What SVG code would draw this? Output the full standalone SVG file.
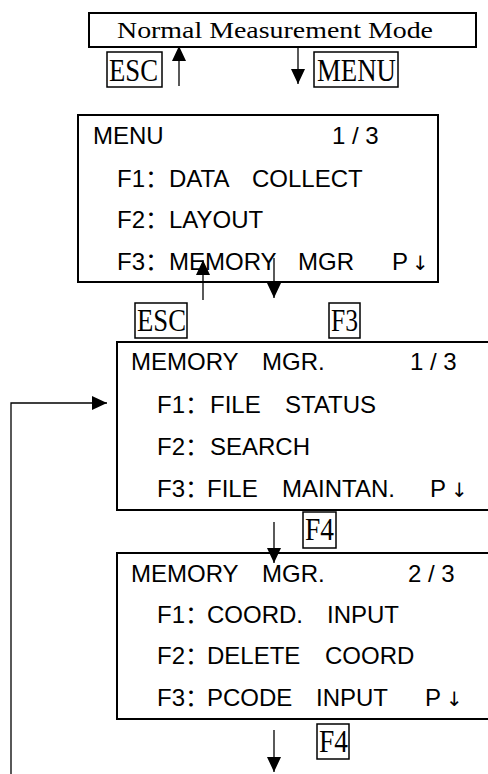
<svg xmlns="http://www.w3.org/2000/svg" width="488" height="774" viewBox="0 0 488 774">
<style>
.box{fill:none;stroke:#000;stroke-width:2}
.key{fill:none;stroke:#000;stroke-width:1.5}
.ktxt{font-family:"Liberation Serif","Times New Roman",serif;font-size:31px;fill:#000}
.txt{font-family:"Liberation Sans",Arial,"Noto Sans CJK SC",sans-serif;font-size:24px;fill:#000}
.dn{font-family:"DejaVu Sans",sans-serif;font-size:20px;fill:#000}
.ar{fill:none;stroke:#000;stroke-width:1.3}
</style>
<defs>
<marker id="ah" markerUnits="userSpaceOnUse" markerWidth="15" markerHeight="14" refX="15" refY="7" orient="auto" viewBox="0 0 15 14">
<path d="M0,0 L15,7 L0,14 z" fill="#000"/>
</marker>
</defs>
<rect width="488" height="774" fill="#fff"/>
<g id="normal-mode">
<rect class="box" x="89" y="13" width="387" height="34"/>
<text x="117" y="38" font-family="Liberation Serif,'Times New Roman',serif" font-size="23" textLength="316" lengthAdjust="spacingAndGlyphs">Normal Measurement Mode</text>
</g>
<g id="key-esc1">
<rect class="key" x="107" y="52" width="55" height="35"/>
<text class="ktxt" x="109" y="81" textLength="49" lengthAdjust="spacingAndGlyphs">ESC</text>
</g>
<g id="key-menu">
<rect class="key" x="314" y="52" width="84" height="35"/>
<text class="ktxt" x="317" y="81" textLength="79" lengthAdjust="spacingAndGlyphs">MENU</text>
</g>
<g id="menu-screen">
<rect class="box" x="78" y="115" width="360" height="167"/>
<text class="txt" y="144"><tspan x="93">MENU</tspan><tspan x="332">1 / 3</tspan></text>
<text class="txt" y="187"><tspan x="117">F1：</tspan><tspan x="169">DATA</tspan><tspan x="252">COLLECT</tspan></text>
<text class="txt" y="228"><tspan x="117">F2：</tspan><tspan x="169">LAYOUT</tspan></text>
<text class="txt" y="270"><tspan x="117">F3：</tspan><tspan x="169">MEMORY</tspan><tspan x="298">MGR</tspan><tspan x="392">P</tspan><tspan class="dn" x="412">↓</tspan></text>
</g>
<g id="key-esc2">
<rect class="key" x="135" y="303" width="52" height="35"/>
<text class="ktxt" x="137" y="331" textLength="49" lengthAdjust="spacingAndGlyphs">ESC</text>
</g>
<g id="key-f3">
<rect class="key" x="329" y="303" width="31" height="35"/>
<text class="ktxt" x="331" y="331" textLength="27" lengthAdjust="spacingAndGlyphs">F3</text>
</g>
<g id="memory-1">
<path class="box" d="M488,342 H117 V510 H488"/>
<text class="txt" y="370"><tspan x="131">MEMORY</tspan><tspan x="262">MGR.</tspan><tspan x="410">1 / 3</tspan></text>
<text class="txt" y="413"><tspan x="157">F1：</tspan><tspan x="210">FILE</tspan><tspan x="285">STATUS</tspan></text>
<text class="txt" y="455"><tspan x="157">F2：</tspan><tspan x="210">SEARCH</tspan></text>
<text class="txt" y="497"><tspan x="157">F3：</tspan><tspan x="207">FILE</tspan><tspan x="282">MAINTAN.</tspan><tspan x="430">P</tspan><tspan class="dn" x="451">↓</tspan></text>
</g>
<g id="key-f4a">
<rect class="key" x="303" y="512" width="33" height="36"/>
<text class="ktxt" x="305" y="540" textLength="29" lengthAdjust="spacingAndGlyphs">F4</text>
</g>
<g id="memory-2">
<path class="box" d="M488,553 H117 V719 H488"/>
<text class="txt" y="582"><tspan x="131">MEMORY</tspan><tspan x="262">MGR.</tspan><tspan x="408">2 / 3</tspan></text>
<text class="txt" y="623"><tspan x="157">F1：</tspan><tspan x="207">COORD.</tspan><tspan x="327">INPUT</tspan></text>
<text class="txt" y="664"><tspan x="157">F2：</tspan><tspan x="207">DELETE</tspan><tspan x="325">COORD</tspan></text>
<text class="txt" y="706"><tspan x="157">F3：</tspan><tspan x="207">PCODE</tspan><tspan x="316">INPUT</tspan><tspan x="425">P</tspan><tspan class="dn" x="446">↓</tspan></text>
</g>
<g id="key-f4b">
<rect class="key" x="317" y="724" width="32" height="35"/>
<text class="ktxt" x="319" y="752" textLength="29" lengthAdjust="spacingAndGlyphs">F4</text>
</g>
<g id="connectors">
<line class="ar" x1="179" y1="86" x2="179" y2="46" marker-end="url(#ah)"/>
<line class="ar" x1="298" y1="47" x2="298" y2="84" marker-end="url(#ah)"/>
<line class="ar" x1="203" y1="300" x2="203" y2="260" marker-end="url(#ah)"/>
<line class="ar" x1="274" y1="258" x2="274" y2="298" marker-end="url(#ah)"/>
<line class="ar" x1="274" y1="522" x2="274" y2="563" marker-end="url(#ah)"/>
<line class="ar" x1="274" y1="730" x2="274" y2="772" marker-end="url(#ah)"/>
<polyline class="ar" points="11,774 11,403 107,403" marker-end="url(#ah)"/>
</g>
</svg>
